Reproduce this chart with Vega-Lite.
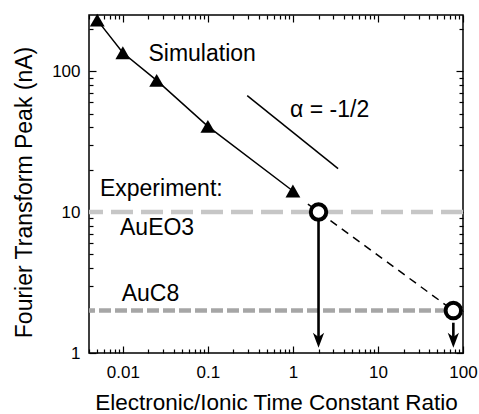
{
  "$schema": "https://vega.github.io/schema/vega-lite/v6.json",
  "width": 374,
  "height": 338,
  "autosize": "none",
  "padding": {"left": 89, "top": 15, "right": 16, "bottom": 61},
  "background": "white",
  "config": {
    "view": {"stroke": "black", "strokeWidth": 1.5},
    "font": "Liberation Sans",
    "text": {"font": "Liberation Sans", "fontSize": 23, "color": "black", "align": "left", "baseline": "alphabetic"}
  },
  "datasets": {
    "sim": [
      {"x": 0.005, "y": 230},
      {"x": 0.01, "y": 135},
      {"x": 0.025, "y": 86},
      {"x": 0.1, "y": 40.5},
      {"x": 1, "y": 14.1}
    ],
    "slope": [{"x": 0.29, "y": 67}, {"x": 3.4, "y": 20.3}],
    "extrap": [{"x": 1.5, "y": 11.4}, {"x": 77, "y": 2}],
    "exp": [{"name": "AuEO3", "y": 10}, {"name": "AuC8", "y": 2}],
    "circles": [{"x": 2, "y": 10}, {"x": 77, "y": 2}],
    "shafts": [{"x": 2, "y": 9.1, "y2": 1.26}, {"x": 77, "y": 1.64, "y2": 1.26}],
    "heads": [{"x": 2, "y": 1.23}, {"x": 77, "y": 1.23}],
    "labels": [
      {"x": 0.02, "y": 118.5, "text": "Simulation"},
      {"x": 0.926, "y": 46.9, "text": "α = -1/2"},
      {"x": 0.00538, "y": 13.0, "text": "Experiment:"},
      {"x": 0.00926, "y": 6.85, "text": "AuEO3"},
      {"x": 0.0097, "y": 2.33, "text": "AuC8"}
    ]
  },
  "layer": [
    {
      "data": {"name": "exp"},
      "mark": {"type": "rule", "strokeWidth": 4.5, "strokeCap": "butt"},
      "encoding": {
        "y": {"field": "y", "type": "quantitative", "scale": {"type": "log", "domain": [1, 250]}, "axis": null},
        "color": {"field": "name", "type": "nominal", "scale": {"domain": ["AuEO3", "AuC8"], "range": ["#c6c6c6", "#a6a6a6"]}, "legend": null},
        "strokeDash": {"field": "name", "type": "nominal", "scale": {"domain": ["AuEO3", "AuC8"], "range": [[22, 8], [12, 4]]}, "legend": null}
      }
    },
    {
      "data": {"name": "sim"},
      "mark": {"type": "line", "color": "black", "strokeWidth": 1.5},
      "encoding": {
        "x": {
          "field": "x", "type": "quantitative",
          "scale": {"type": "log", "domain": [0.004, 100]},
          "axis": {
            "orient": "bottom",
            "values": [0.004,0.005,0.006,0.007,0.008,0.009,0.01,0.02,0.03,0.04,0.05,0.06,0.07,0.08,0.09,0.1,0.2,0.3,0.4,0.5,0.6,0.7,0.8,0.9,1,2,3,4,5,6,7,8,9,10,20,30,40,50,60,70,80,90,100],
            "labelExpr": "datum.value == 0.01 ? '0.01' : datum.value == 0.1 ? '0.1' : datum.value == 1 ? '1' : datum.value == 10 ? '10' : datum.value == 100 ? '100' : ''",
            "labelFont": "Liberation Sans", "labelFontSize": 17, "labelColor": "black",
            "labelPadding": 18, "labelFlush": false, "labelOverlap": false,
            "tickColor": "black", "tickWidth": 1.2,
            "tickSize": {"condition": {"test": "abs(log(datum.value)/LN10 - round(log(datum.value)/LN10)) < 0.001", "value": -7}, "value": -4},
            "domain": false, "grid": false,
            "title": "Electronic/Ionic Time Constant Ratio",
            "titleFont": "Liberation Sans", "titleFontSize": 22.5, "titleFontWeight": "normal", "titleColor": "black",
            "titleX": 187, "titleY": 56, "titleBaseline": "alphabetic", "titleAlign": "center"
          }
        },
        "y": {
          "field": "y", "type": "quantitative",
          "scale": {"type": "log", "domain": [1, 250]},
          "axis": {
            "orient": "left",
            "values": [1,2,3,4,5,6,7,8,9,10,20,30,40,50,60,70,80,90,100,200],
            "labelExpr": "datum.value == 1 ? '1' : datum.value == 10 ? '10' : datum.value == 100 ? '100' : ''",
            "labelFont": "Liberation Sans", "labelFontSize": 17, "labelColor": "black",
            "labelPadding": 16, "labelFlush": false, "labelOverlap": false,
            "tickColor": "black", "tickWidth": 1.2,
            "tickSize": {"condition": {"test": "abs(log(datum.value)/LN10 - round(log(datum.value)/LN10)) < 0.001", "value": -7}, "value": -4},
            "domain": false, "grid": false,
            "title": "Fourier Transform Peak (nA)",
            "titleFont": "Liberation Sans", "titleFontSize": 23, "titleFontWeight": "normal", "titleColor": "black",
            "titleAngle": -90, "titleX": -58, "titleY": 177, "titleBaseline": "alphabetic", "titleAlign": "center"
          }
        }
      }
    },
    {
      "data": {"name": "sim"},
      "mark": {"type": "point", "shape": "triangle-up", "filled": true, "color": "black", "size": 220, "opacity": 1},
      "encoding": {
        "x": {
          "field": "x", "type": "quantitative",
          "scale": {"type": "log", "domain": [0.004, 100]},
          "axis": {
            "orient": "top",
            "values": [0.004,0.005,0.006,0.007,0.008,0.009,0.01,0.02,0.03,0.04,0.05,0.06,0.07,0.08,0.09,0.1,0.2,0.3,0.4,0.5,0.6,0.7,0.8,0.9,1,2,3,4,5,6,7,8,9,10,20,30,40,50,60,70,80,90,100],
            "labels": false, "title": null,
            "tickColor": "black", "tickWidth": 1.2,
            "tickSize": {"condition": {"test": "abs(log(datum.value)/LN10 - round(log(datum.value)/LN10)) < 0.001", "value": -7}, "value": -4},
            "domain": false, "grid": false
          }
        },
        "y": {
          "field": "y", "type": "quantitative",
          "scale": {"type": "log", "domain": [1, 250]},
          "axis": {
            "orient": "right",
            "values": [1,2,3,4,5,6,7,8,9,10,20,30,40,50,60,70,80,90,100,200],
            "labels": false, "title": null,
            "tickColor": "black", "tickWidth": 1.2,
            "tickSize": {"condition": {"test": "abs(log(datum.value)/LN10 - round(log(datum.value)/LN10)) < 0.001", "value": -7}, "value": -4},
            "domain": false, "grid": false
          }
        }
      }
    },
    {
      "data": {"name": "slope"},
      "mark": {"type": "line", "color": "black", "strokeWidth": 1.5},
      "encoding": {
        "x": {"field": "x", "type": "quantitative", "scale": {"type": "log", "domain": [0.004, 100]}, "axis": null},
        "y": {"field": "y", "type": "quantitative", "scale": {"type": "log", "domain": [1, 250]}, "axis": null}
      }
    },
    {
      "data": {"name": "extrap"},
      "mark": {"type": "line", "color": "black", "strokeWidth": 1.5, "strokeDash": [8, 6]},
      "encoding": {
        "x": {"field": "x", "type": "quantitative", "scale": {"type": "log", "domain": [0.004, 100]}, "axis": null},
        "y": {"field": "y", "type": "quantitative", "scale": {"type": "log", "domain": [1, 250]}, "axis": null}
      }
    },
    {
      "data": {"name": "shafts"},
      "mark": {"type": "rule", "color": "black", "strokeWidth": 2.6},
      "encoding": {
        "x": {"field": "x", "type": "quantitative", "scale": {"type": "log", "domain": [0.004, 100]}, "axis": null},
        "y": {"field": "y", "type": "quantitative", "scale": {"type": "log", "domain": [1, 250]}, "axis": null},
        "y2": {"field": "y2"}
      }
    },
    {
      "data": {"name": "heads"},
      "mark": {"type": "point", "shape": "M0,1 L-0.75,-1 L0,-0.45 L0.75,-1 Z", "filled": true, "color": "black", "size": 225, "opacity": 1},
      "encoding": {
        "x": {"field": "x", "type": "quantitative", "scale": {"type": "log", "domain": [0.004, 100]}, "axis": null},
        "y": {"field": "y", "type": "quantitative", "scale": {"type": "log", "domain": [1, 250]}, "axis": null}
      }
    },
    {
      "data": {"name": "circles"},
      "mark": {"type": "point", "shape": "circle", "filled": false, "fill": "white", "fillOpacity": 1, "stroke": "black", "strokeWidth": 4, "size": 240, "opacity": 1},
      "encoding": {
        "x": {"field": "x", "type": "quantitative", "scale": {"type": "log", "domain": [0.004, 100]}, "axis": null},
        "y": {"field": "y", "type": "quantitative", "scale": {"type": "log", "domain": [1, 250]}, "axis": null}
      }
    },
    {
      "data": {"name": "labels"},
      "mark": {"type": "text"},
      "encoding": {
        "x": {"field": "x", "type": "quantitative", "scale": {"type": "log", "domain": [0.004, 100]}, "axis": null},
        "y": {"field": "y", "type": "quantitative", "scale": {"type": "log", "domain": [1, 250]}, "axis": null},
        "text": {"field": "text"}
      }
    }
  ],
  "resolve": {"axis": {"x": "independent", "y": "independent"}}
}
